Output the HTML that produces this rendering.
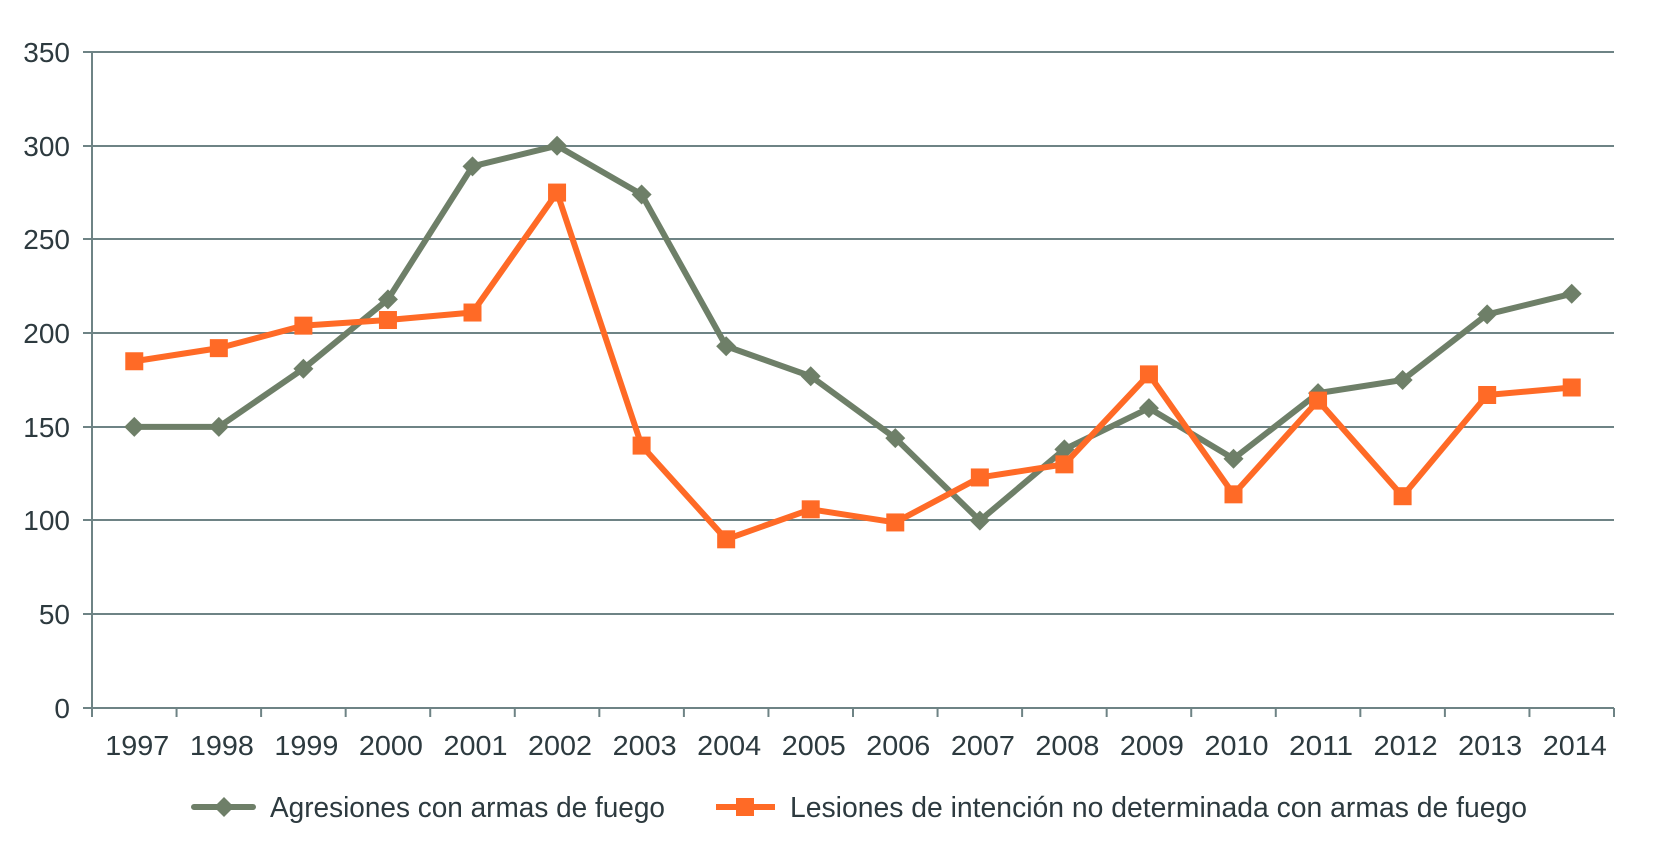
<!DOCTYPE html>
<html><head><meta charset="utf-8"><style>html,body{margin:0;padding:0;background:#fff}svg{display:block}</style></head>
<body>
<svg width="1654" height="859" xmlns="http://www.w3.org/2000/svg" font-family="Liberation Sans, sans-serif" fill="#2d3a3f">
<g stroke="#6e8385" stroke-width="2">
<line x1="83" y1="52" x2="1614" y2="52"/>
<line x1="83" y1="146" x2="1614" y2="146"/>
<line x1="83" y1="239" x2="1614" y2="239"/>
<line x1="83" y1="333" x2="1614" y2="333"/>
<line x1="83" y1="427" x2="1614" y2="427"/>
<line x1="83" y1="520" x2="1614" y2="520"/>
<line x1="83" y1="614" x2="1614" y2="614"/>
<line x1="83" y1="708" x2="1614" y2="708"/>
<line x1="92" y1="52" x2="92" y2="716"/>
</g>
<g id="ticks" stroke="#6e8385" stroke-width="2"></g>
<g font-size="28" text-anchor="end">
<text x="70" y="62">350</text><text x="70" y="156">300</text><text x="70" y="249">250</text><text x="70" y="343">200</text><text x="70" y="437">150</text><text x="70" y="530">100</text><text x="70" y="624">50</text><text x="70" y="718">0</text>
</g>
<g id="xl" font-size="28" text-anchor="middle"></g>
<polyline id="g" fill="none" stroke="#6e7f68" stroke-width="6" stroke-linejoin="round"/>
<g id="gm" fill="#6e7f68"></g>
<polyline id="o" fill="none" stroke="#ff6a26" stroke-width="6" stroke-linejoin="round"/>
<g id="om" fill="#ff6a26"></g>
<line x1="194" y1="807" x2="253" y2="807" stroke="#6e7f68" stroke-width="6" stroke-linecap="round"/>
<polygon points="224,797 234,807 224,817 214,807" fill="#6e7f68"/>
<text x="270" y="817" font-size="29" textLength="395" lengthAdjust="spacingAndGlyphs">Agresiones con armas de fuego</text>
<line x1="716" y1="807" x2="775" y2="807" stroke="#ff6a26" stroke-width="6"/>
<rect x="736" y="798" width="18" height="18" fill="#ff6a26"/>
<text x="790" y="817" font-size="29" textLength="737" lengthAdjust="spacingAndGlyphs">Lesiones de intención no determinada con armas de fuego</text>
<script>
var ns="http://www.w3.org/2000/svg";
var G=[150,150,181,218,289,300,274,193,177,144,100,138,160,133,168,175,210,221];
var O=[185,192,204,207,211,275,140,90,106,99,123,130,178,114,164,113,167,171];
var w=(1614-92)/18;function X(i){return 92+(i+0.5)*w}function Y(v){return 708-v*656/350}
var t=document.getElementById('ticks'),xl=document.getElementById('xl');
for(var i=0;i<=18;i++){var l=document.createElementNS(ns,'line');var x=92+i*w;l.setAttribute('x1',x);l.setAttribute('x2',x);l.setAttribute('y1',708);l.setAttribute('y2',717);t.appendChild(l);}
for(var i=0;i<18;i++){var tx=document.createElementNS(ns,'text');tx.setAttribute('x',X(i)+3);tx.setAttribute('y',755);tx.setAttribute('textLength',64);tx.setAttribute('lengthAdjust','spacingAndGlyphs');tx.textContent=1997+i;xl.appendChild(tx);}
function pts(a){return a.map(function(v,i){return X(i)+','+Y(v)}).join(' ')}
document.getElementById('g').setAttribute('points',pts(G));
document.getElementById('o').setAttribute('points',pts(O));
var gm=document.getElementById('gm'),om=document.getElementById('om');
G.forEach(function(v,i){var p=document.createElementNS(ns,'polygon');var x=X(i),y=Y(v);p.setAttribute('points',x+','+(y-10)+' '+(x+10)+','+y+' '+x+','+(y+10)+' '+(x-10)+','+y);gm.appendChild(p);});
O.forEach(function(v,i){var r=document.createElementNS(ns,'rect');r.setAttribute('x',X(i)-9);r.setAttribute('y',Y(v)-9);r.setAttribute('width',18);r.setAttribute('height',18);om.appendChild(r);});
</script>
</svg>
</body></html>
